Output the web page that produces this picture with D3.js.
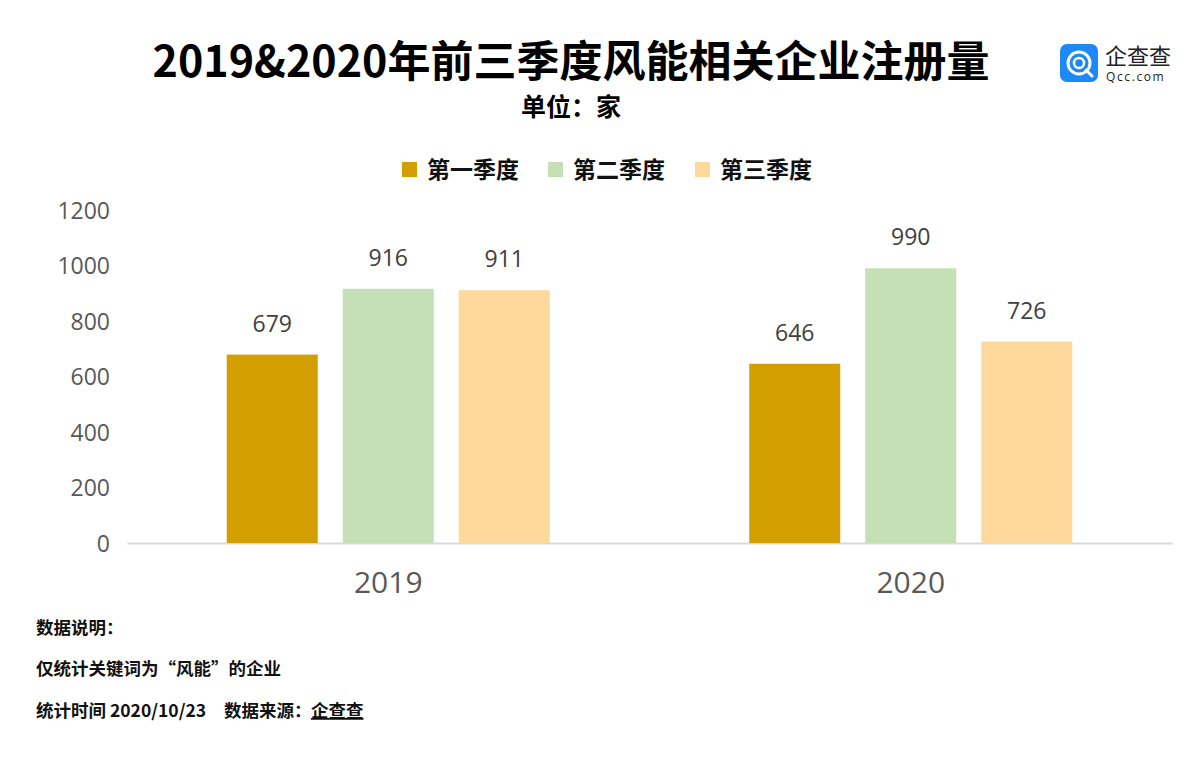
<!DOCTYPE html>
<html><head><meta charset="utf-8">
<script src="https://cdn.jsdelivr.net/npm/d3@7"></script>
<style>body{margin:0;background:#fff;}svg{display:block;}</style>
</head><body>
<svg id="c" width="1203" height="758"></svg>
<script>
const years = ["2019", "2020"];
const seriesNames = ["第一季度", "第二季度", "第三季度"];
const q1 = [679, 646];
const q2 = [916, 990];
const q3 = [911, 726];
const yTicks = [0, 200, 400, 600, 800, 1000, 1200];
const colors = ["#D39E00", "#C5E0B4", "#FFD89B"];
const series = [q1, q2, q3];

const svg = d3.select("#c");
const font = "'Noto Sans CJK SC','Open Sans',sans-serif";
const numFont = "'Open Sans','Noto Sans',sans-serif";

// title
svg.append("text").attr("x", 571).attr("y", 77).attr("text-anchor", "middle")
  .attr("font-family", font).attr("font-weight", "bold").attr("font-size", 43).attr("fill", "#000")
  .text("2019&2020年前三季度风能相关企业注册量");
svg.append("text").attr("x", 571).attr("y", 116).attr("text-anchor", "middle")
  .attr("font-family", font).attr("font-weight", "bold").attr("font-size", 25).attr("fill", "#000")
  .text("单位：家");

// logo
const logo = svg.append("g").attr("transform", "translate(1060,44)");
logo.append("rect").attr("width", 38).attr("height", 38).attr("rx", 7).attr("fill", "#1E88F5");
logo.append("circle").attr("cx", 19).attr("cy", 19).attr("r", 11).attr("fill", "none").attr("stroke", "#fff").attr("stroke-width", 3);
logo.append("circle").attr("cx", 19).attr("cy", 19).attr("r", 5).attr("fill", "none").attr("stroke", "#fff").attr("stroke-width", 2.5);
logo.append("line").attr("x1", 26).attr("y1", 26).attr("x2", 32).attr("y2", 32).attr("stroke", "#fff").attr("stroke-width", 3).attr("stroke-linecap", "round");
logo.append("text").attr("x", 45).attr("y", 20).attr("font-family", font).attr("font-size", 22).attr("fill", "#222").text("企查查");
logo.append("text").attr("x", 46).attr("y", 37).attr("font-family", numFont).attr("font-size", 12).attr("letter-spacing", 1.6).attr("fill", "#222").text("Qcc.com");

// legend
const legX = [402, 548, 695];
seriesNames.forEach((n, i) => {
  svg.append("rect").attr("x", legX[i]).attr("y", 162).attr("width", 15).attr("height", 15).attr("fill", colors[i]);
  svg.append("text").attr("x", legX[i] + 25).attr("y", 178).attr("font-family", font).attr("font-weight", "bold")
    .attr("font-size", 23).attr("fill", "#111").text(n);
});

// scales
const x0 = d3.scaleBand().domain(years).range([127, 1172]);
const y = d3.scaleLinear().domain([0, 1200]).range([543, 210]);
const barW = 91, gap = 25;
const x1 = d3.scaleBand().domain(d3.range(3)).range([0, 3 * barW + 2 * gap]).paddingInner(gap / (barW + gap));

// y axis
const yAxis = svg.append("g").attr("transform", "translate(110,0)")
  .call(d3.axisLeft(y).tickValues(yTicks).tickFormat(d3.format("d")).tickSize(0).tickPadding(0));
yAxis.select(".domain").remove();
yAxis.selectAll("text").attr("font-family", numFont).attr("font-size", 23).attr("fill", "#595959").attr("dy", "0.35em");

// x axis
const xAxis = svg.append("g").attr("transform", "translate(0,543)")
  .call(d3.axisBottom(x0).tickSize(0).tickPadding(0));
xAxis.select(".domain").attr("stroke", "#D9D9D9").attr("stroke-width", 2);
xAxis.selectAll("text").attr("font-family", numFont).attr("font-size", 30).attr("fill", "#595959").attr("dy", "1.65em");

// bars
years.forEach((yr, gi) => {
  const gx = x0(yr) + x0.bandwidth() / 2 - (3 * barW + 2 * gap) / 2;
  series.forEach((s, si) => {
    const bx = gx + x1(si);
    svg.append("rect").attr("x", bx).attr("y", y(s[gi])).attr("width", x1.bandwidth())
      .attr("height", y(0) - y(s[gi])).attr("fill", colors[si]);
    svg.append("text").attr("x", bx + x1.bandwidth() / 2).attr("y", y(s[gi]) - 23).attr("text-anchor", "middle")
      .attr("font-family", numFont).attr("font-size", 23).attr("fill", "#404040").text(s[gi]);
  });
});

// footer
const foot = [["数据说明：", 634], ["仅统计关键词为“风能”的企业", 675], ["统计时间 2020/10/23", 717]];
foot.forEach(([t, yy]) => {
  svg.append("text").attr("x", 36).attr("y", yy).attr("font-family", font).attr("font-weight", "bold")
    .attr("font-size", 17.5).attr("fill", "#111").text(t);
});
svg.append("text").attr("x", 224).attr("y", 717).attr("font-family", font).attr("font-weight", "bold")
  .attr("font-size", 17.5).attr("fill", "#111").text("数据来源：");
svg.append("text").attr("x", 311).attr("y", 717).attr("font-family", font).attr("font-weight", "bold")
  .attr("font-size", 17.5).attr("fill", "#111").attr("text-decoration", "underline").text("企查查");
</script>
</body></html>
